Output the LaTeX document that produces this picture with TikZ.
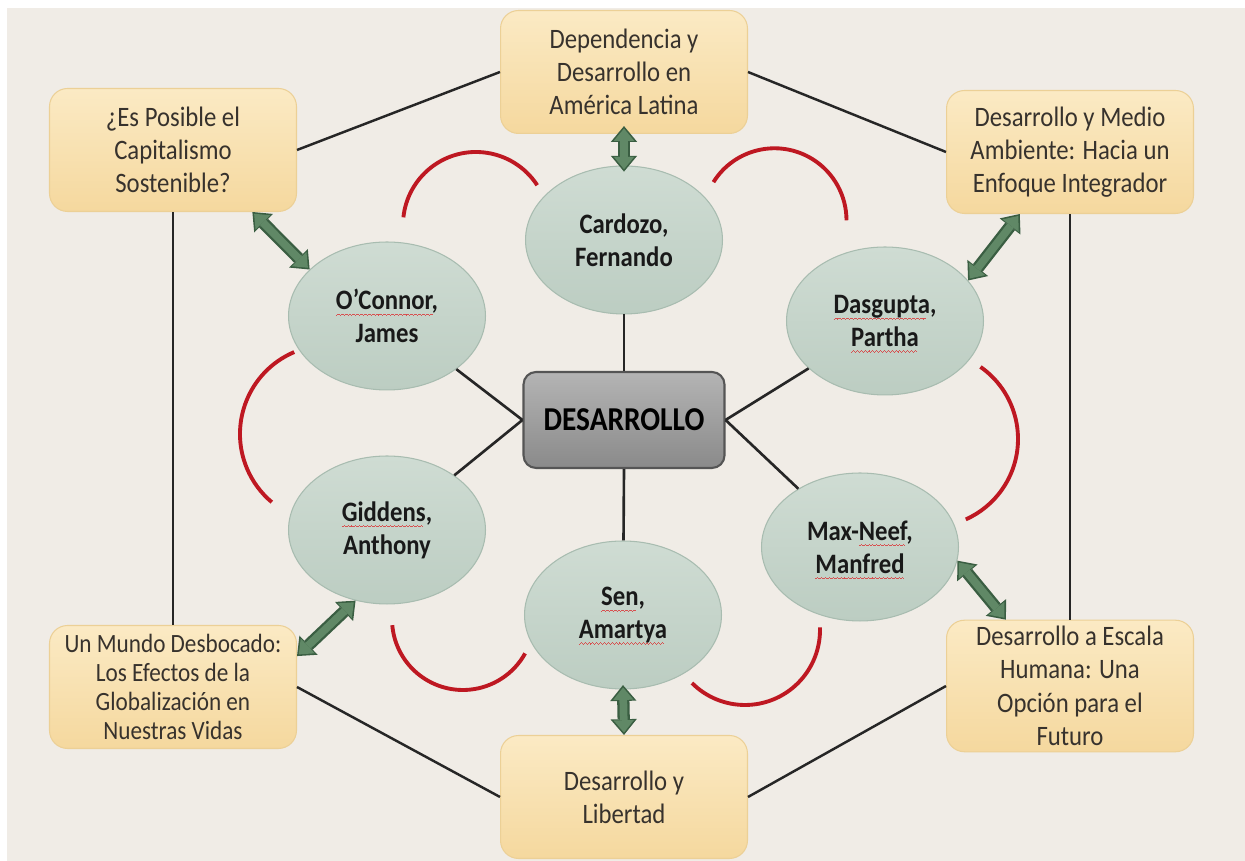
\documentclass[tikz,border=0pt]{standalone}
\usepackage{fontspec}
\setmainfont{Carlito}[FakeStretch=0.88]
\usetikzlibrary{arrows.meta,shapes.geometric}

\definecolor{pagebeige}{RGB}{240,236,230}
\definecolor{booktop}{RGB}{251,234,196}
\definecolor{bookbottom}{RGB}{245,216,158}
\definecolor{bookline}{RGB}{236,208,150}
\definecolor{booktext}{RGB}{55,50,45}
\definecolor{authtop}{RGB}{207,220,211}
\definecolor{authbottom}{RGB}{188,205,194}
\definecolor{authline}{RGB}{168,188,176}
\definecolor{coretop}{RGB}{180,180,180}
\definecolor{corebottom}{RGB}{138,138,138}
\definecolor{coreline}{RGB}{85,85,85}
\definecolor{arrowfill}{RGB}{96,136,102}
\definecolor{arrowline}{RGB}{58,94,66}
\definecolor{linkred}{RGB}{190,24,34}
\definecolor{spellred}{RGB}{215,80,80}

% wavy spell-check mark under a word (made of tiny rules)
\newcommand{\wavebit}{\rule[0pt]{0.55pt}{0.45pt}\rule[0.35pt]{0.55pt}{0.45pt}\rule[0.7pt]{0.55pt}{0.45pt}\rule[0.35pt]{0.55pt}{0.45pt}}
\newcommand{\spellmark}[1]{\setbox0=\hbox{#1}\rlap{\raisebox{-3.4pt}[0pt][0pt]{\hbox to \wd0{\color{spellred}%
  \leaders\hbox{\wavebit}\hfil}}}#1}

\tikzset{
  bookbox/.style={rectangle, rounded corners=0.36cm, minimum width=4.94cm, minimum height=2.46cm,
    align=center, text=booktext, draw=bookline, line width=0.6pt,
    top color=booktop, bottom color=bookbottom, font=\fontsize{16}{18.7}\selectfont},
  author/.style={ellipse, minimum width=3.94cm, minimum height=2.96cm, inner sep=0pt,
    align=center, text=black!90, draw=authline, line width=0.6pt,
    top color=authtop, bottom color=authbottom, font=\bfseries\fontsize{16}{18.7}\selectfont},
  corebox/.style={rectangle, rounded corners=0.25cm, minimum width=4.02cm, minimum height=1.92cm,
    draw=coreline, line width=1.2pt, top color=coretop, bottom color=corebottom,
    font=\bfseries\fontsize{19}{22}\selectfont},
  spoke/.style={draw=black!85, line width=1.5pt},
  rim/.style={draw=black!85, line width=1.4pt},
  redarc/.style={draw=linkred, line width=2.2pt},
  fatarrow/.style={line width=7pt, draw=arrowline,
    {Triangle[length=9pt,width=15pt,line width=0pt]}-{Triangle[length=9pt,width=15pt,line width=0pt]},
    postaction={draw=arrowfill, line width=4.4pt, shorten <=1.4pt, shorten >=1.4pt,
      {Triangle[length=7pt,width=11.6pt,line width=0pt]}-{Triangle[length=7pt,width=11.6pt,line width=0pt]}}}
}

\begin{document}
\begin{tikzpicture}[x=0.02cm, y=0.02cm]
  \useasboundingbox (0,0) rectangle (1245,861);
  \fill[white] (0,0) rectangle (1245,861);
  \fill[pagebeige] (7,0) rectangle (1245,853);

  % books
  \node[bookbox] (topbox) at (624,789) {Dependencia y\\Desarrollo en\\América Latina};
  \node[bookbox] (tlbox) at (173,711) {¿Es Posible el\\Capitalismo\\Sostenible?};
  \node[bookbox] (trbox) at (1070,709) {Desarrollo y Medio\\Ambiente: Hacia un\\Enfoque Integrador};
  \node[bookbox, font=\fontsize{15}{16.4}\selectfont] (blbox) at (173,174) {Un Mundo Desbocado:\\Los Efectos de la\\Globalización en\\Nuestras Vidas};
  \node[bookbox, font=\fontsize{16}{19}\selectfont] (brbox) at (1070,175) {Desarrollo a Escala\\Humana: Una\\Opción para el\\Futuro};
  \node[bookbox] (botbox) at (624,64) {Desarrollo y\\Libertad};

  % authors
  \node[author] (cardozo) at (624,621) {Cardozo,\\Fernando};
  \node[author] (oconnor) at (387,545) {\spellmark{O'Connor},\\James};
  \node[author] (dasgupta) at (885,540) {\spellmark{Dasgupta},\\\spellmark{Partha}};
  \node[author] (giddens) at (387,331) {\spellmark{Giddens},\\Anthony};
  \node[author] (maxneef) at (860,314) {Max-\spellmark{Neef},\\\spellmark{Manfred}};
  \node[author] (sen) at (623,246) {\spellmark{Sen},\\\spellmark{Amartya}};

  \node[corebox] (core) at (624,441) {DESARROLLO};

  % spokes and outer ring
  \foreach \a/\b in {core.north/cardozo, core.west/oconnor, core.west/giddens,
                     core.east/dasgupta, core.east/maxneef, core.south/sen}
    \draw[spoke] (\a) -- (\b);
  \draw[rim] (topbox.west) -- (tlbox.east);
  \draw[rim] (topbox.east) -- (trbox.west);
  \draw[rim] (tlbox.south) -- (blbox.north);
  \draw[rim] (trbox.south) -- (brbox.north);
  \draw[rim] (blbox.east) -- (botbox.west);
  \draw[rim] (brbox.west) -- (botbox.east);

  % red links between authors
  \foreach \cx/\cy/\sa/\ea/\r in {476/636/174/33/73, 774.5/640.7/148/0/72,
                                  329/427/113/230/89, 930/422/55/-66/88,
                                  463/242/185/331/71, 745/231/225/362/75}
    \draw[redarc] ([shift={(\sa:\r)}]\cx,\cy) arc (\sa:\ea:\r);

  % book <-> author arrows
  \draw[fatarrow] ([yshift=4.5pt]topbox.south) -- ([yshift=-3.5pt]cardozo.north);
  \draw[fatarrow] (tlbox.-38) -- (oconnor.149);
  \draw[fatarrow] (trbox.231) -- (dasgupta.26);
  \draw[fatarrow] (blbox.14) -- (giddens.246);
  \draw[fatarrow] (brbox.134) -- (maxneef.-8);
  \draw[fatarrow] ([yshift=2.5pt]sen.south) -- (botbox.north);
\end{tikzpicture}
\end{document}
